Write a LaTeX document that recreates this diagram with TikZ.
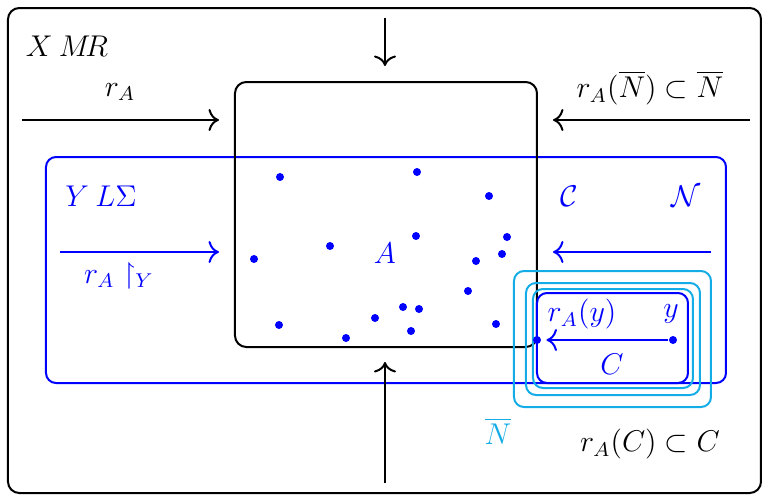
\documentclass[tikz,border=0pt]{standalone}
\usepackage{amssymb}
\usetikzlibrary{fit,arrows.meta}
\definecolor{cyanish}{RGB}{20,172,230}
\begin{document}
\begin{tikzpicture}[x=0.4pt,y=-0.4pt,
  every node/.style={font=\fontsize{12}{14}\selectfont},
  box/.style={draw, inner sep=0pt, rounded corners=4.5pt, line width=0.8pt},
  dot/.style={circle, fill=blue, inner sep=0pt, minimum size=3.2pt},
  arr/.style={-{To[scale=1.25]}, line width=0.8pt},
  lbl/.style={inner sep=1pt}]
\useasboundingbox (0,0) rectangle (763,495);
% frames
\node[box, fit={(8,8) (761,493)}] (X) {};
\node[box, blue, rounded corners=4pt, fit={(46,157) (726,383)}] (Y) {};
\node[box, fit={(235,82) (537,347)}] (Abox) {};
\node[box, cyanish, rounded corners=4pt, fit={(514,271) (711,407)}] (N1) {};
\node[box, cyanish, rounded corners=4pt, fit={(526,283) (700,395)}] (N2) {};
\node[box, cyanish, rounded corners=4pt, fit={(533,289) (693,388)}] (N3) {};
\node[box, blue, rounded corners=4pt, fit={(537,293) (688,383)}] (Cbox) {};
% labels
\node[lbl] (lX) at (67,46) {$X$\kern2.5pt$M\!R$};
\node[lbl] (lrA) at (120,92) {$r_A$};
\node[lbl] (lrN) at (650,88) {$r_A(\overline{N})\subset\overline{N}$};
\node[lbl, blue] (lY) at (101,196) {$Y$\kern2.5pt$L\Sigma$};
\node[lbl, blue] (lrY) at (119,276) {$r_A\restriction_Y$};
\node[lbl, blue] (lC) at (569,196) {$\mathcal{C}$};
\node[lbl, blue] (lN) at (686,196) {$\mathcal{N}$};
\node[lbl, blue] (lA) at (385,253) {$A$};
\node[lbl, blue] (lry) at (582,314) {$r_A(y)$};
\node[lbl, blue] (ly) at (671,314) {$y$};
\node[lbl, blue] (lCC) at (612,364) {$C$};
\node[lbl, cyanish] (lNb) at (498,431) {$\overline{N}$};
\node[lbl] (lrC) at (650,444) {$r_A(C)\subset C$};
% arrow end points
\coordinate (t1) at (385,18);  \coordinate (t2) at (385,66);
\coordinate (b1) at (385,483); \coordinate (b2) at (385,362);
\coordinate (l1) at (22,120);  \coordinate (l2) at (219,120);
\coordinate (r1) at (750,120); \coordinate (r2) at (553,120);
\coordinate (bl1) at (60,252); \coordinate (bl2) at (219,252);
\coordinate (br1) at (711,252); \coordinate (br2) at (553,252);
\draw[arr] (t1) -- (t2);
\draw[arr] (b1) -- (b2);
\draw[arr] (l1) -- (l2);
\draw[arr] (r1) -- (r2);
\draw[arr, blue] (bl1) -- (bl2);
\draw[arr, blue] (br1) -- (br2);
% dots
\foreach \i/\x/\y in {1/280/177,2/417/172,3/489/196,4/416/236,5/507/237,6/330/246,7/254/259,8/502/254,9/476/261,10/468/291,11/403/307,12/419/309,13/279/325,14/375/318,15/411/331,16/346/338,17/496/324}
  \node[dot] (d\i) at (\x,\y) {};
\node[dot] (py) at (673,340) {};
\node[dot] (pry) at (537,340) {};
\draw[arr, blue, shorten >=2pt] (py) -- (pry);
\end{tikzpicture}
\end{document}
